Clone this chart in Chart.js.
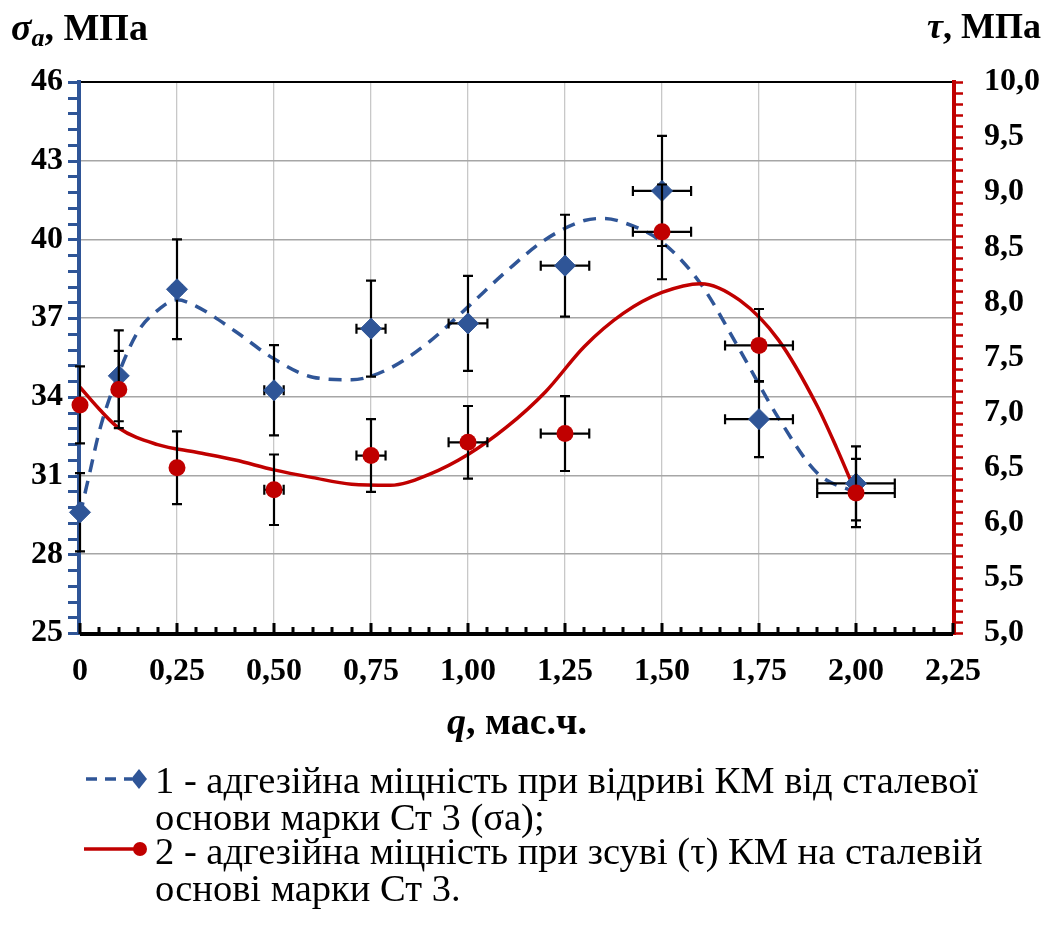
<!DOCTYPE html>
<html><head><meta charset="utf-8">
<script src="https://cdn.jsdelivr.net/npm/chart.js@4.4.1/dist/chart.umd.min.js"></script>
<style>html,body{margin:0;padding:0;background:#fff;overflow:hidden}#wrap{width:1050px;height:935px;position:relative}</style>
</head><body><div id="wrap"><canvas id="c" width="1050" height="935"></canvas></div>
<script>
// ---- data ----
const qValues   = [0, 0.1, 0.25, 0.5, 0.75, 1.0, 1.25, 1.5, 1.75, 2.0];
const sigmaA    = [29.6, 34.8, 38.1, 34.25, 36.6, 36.8, 39.0, 41.85, 33.15, 30.7];
const sigmaErr  = [1.49, 1.73, 1.9, 1.72, 1.83, 1.81, 1.94, 2.1, 1.45, 1.41];
const tau       = [7.07, 7.21, 6.50, 6.30, 6.61, 6.73, 6.81, 8.64, 7.61, 6.27];
const tauErr    = [0.35, 0.35, 0.33, 0.32, 0.33, 0.33, 0.34, 0.43, 0.33, 0.31];
const qErr      = [0, 0.005, 0.0125, 0.025, 0.0375, 0.05, 0.0625, 0.075, 0.0875, 0.1];

const trendQ1     = [0, 0.025, 0.05, 0.1, 0.15, 0.2, 0.25, 0.3, 0.4, 0.5, 0.6, 0.7, 0.8, 0.9, 1.0, 1.1, 1.2, 1.3, 1.35, 1.4, 1.5, 1.6, 1.7, 1.8, 1.9, 2.0];
const trendSigma  = [29.5, 31.1, 32.7, 34.9, 36.5, 37.3, 37.7, 37.45, 36.5, 35.45, 34.75, 34.65, 35.1, 36.1, 37.43, 38.8, 40.0, 40.72, 40.8, 40.65, 39.9, 38.3, 35.8, 33.2, 31.1, 30.35];
const trendQ2     = [0, 0.05, 0.1, 0.2, 0.3, 0.4, 0.5, 0.6, 0.7, 0.8, 0.9, 1.0, 1.1, 1.2, 1.3, 1.4, 1.5, 1.6, 1.7, 1.8, 1.9, 1.95, 2.0];
const trendTau    = [7.23, 7.03, 6.86, 6.71, 6.64, 6.57, 6.48, 6.41, 6.35, 6.34, 6.44, 6.62, 6.87, 7.19, 7.60, 7.90, 8.09, 8.17, 8.02, 7.66, 7.06, 6.68, 6.27];

const xTickLabels      = ['0', '0,25', '0,50', '0,75', '1,00', '1,25', '1,50', '1,75', '2,00', '2,25'];
const yLeftTickLabels  = ['25', '28', '31', '34', '37', '40', '43', '46'];
const yRightTickLabels = ['5,0', '5,5', '6,0', '6,5', '7,0', '7,5', '8,0', '8,5', '9,0', '9,5', '10,0'];

const series1Label = ['1 - адгезійна міцність при відриві КМ від сталевої', 'основи марки Ст 3 (σa);'];
const series2Label = ['2 - адгезійна міцність при зсуві (τ) КМ на сталевій', 'основі марки Ст 3.'];
const xTitle = ['q', ', мас.ч.'];
const leftTitle = ['σ', 'a', ', МПа'];
const rightTitle = ['τ', ', МПа'];

// ---- styles ----
const BLUE = '#2F5597';
const RED = '#C00000';
const SERIF = "'Liberation Serif','Times New Roman',serif";

const pts = (xs, ys) => xs.map((x, i) => ({x, y: ys[i]}));

function drawErrorBars(chart, ds, yId) {
  const ctx = chart.ctx, xs = chart.scales.x, ys = chart.scales[yId];
  const vals = ds === 2 ? sigmaA : tau;
  const errs = ds === 2 ? sigmaErr : tauErr;
  ctx.save();
  ctx.strokeStyle = '#000';
  ctx.lineWidth = 2.2;
  const cap = 5;
  qValues.forEach((q, i) => {
    const px = xs.getPixelForValue(q);
    const py = ys.getPixelForValue(vals[i]);
    const yt = ys.getPixelForValue(vals[i] + errs[i]);
    const yb = ys.getPixelForValue(vals[i] - errs[i]);
    ctx.beginPath();
    ctx.moveTo(px, yt); ctx.lineTo(px, yb);
    ctx.moveTo(px - cap, yt); ctx.lineTo(px + cap, yt);
    ctx.moveTo(px - cap, yb); ctx.lineTo(px + cap, yb);
    if (qErr[i] > 0) {
      const xl = xs.getPixelForValue(q - qErr[i]);
      const xr = xs.getPixelForValue(q + qErr[i]);
      ctx.moveTo(xl, py); ctx.lineTo(xr, py);
      ctx.moveTo(xl, py - cap); ctx.lineTo(xl, py + cap);
      ctx.moveTo(xr, py - cap); ctx.lineTo(xr, py + cap);
    }
    ctx.stroke();
  });
  ctx.restore();
}

const decor = {
  id: 'decor',
  beforeDatasetsDraw(chart) {
    const ctx = chart.ctx, a = chart.chartArea;
    const xs = chart.scales.x, yl = chart.scales.y, yr = chart.scales.y2;
    ctx.save();
    ctx.strokeStyle = '#000'; ctx.lineWidth = 2;
    ctx.beginPath(); ctx.moveTo(a.left, a.top); ctx.lineTo(a.right, a.top); ctx.stroke();
    ctx.strokeStyle = BLUE; ctx.lineWidth = 4;
    ctx.beginPath(); ctx.moveTo(a.left - 1, a.top - 2); ctx.lineTo(a.left - 1, a.bottom + 2); ctx.stroke();
    ctx.lineWidth = 3;
    ctx.beginPath();
    for (let k = 0; k <= 35; k++) {
      const v = 25 + k * 0.6;
      const p = Math.round(yl.getPixelForValue(v)) + 0.5;
      ctx.moveTo(a.left - 12, p); ctx.lineTo(a.left - 1, p);
    }
    ctx.stroke();
    ctx.strokeStyle = RED; ctx.lineWidth = 4;
    ctx.beginPath(); ctx.moveTo(a.right + 1, a.top - 2); ctx.lineTo(a.right + 1, a.bottom + 2); ctx.stroke();
    ctx.lineWidth = 2.5;
    ctx.beginPath();
    for (let k = 0; k <= 50; k++) {
      const v = 5 + k * 0.1;
      const p = Math.round(yr.getPixelForValue(v)) + 0.5;
      ctx.moveTo(a.right + 1, p); ctx.lineTo(a.right + 10, p);
    }
    ctx.stroke();
    ctx.strokeStyle = '#000'; ctx.lineWidth = 4;
    ctx.beginPath(); ctx.moveTo(a.left, a.bottom + 1); ctx.lineTo(a.right, a.bottom + 1); ctx.stroke();
    ctx.lineWidth = 3;
    ctx.beginPath();
    for (let k = 0; k <= 45; k++) {
      const v = k * 0.05;
      const p = Math.round(xs.getPixelForValue(v));
      const len = (k % 5 === 0) ? 11 : 7;
      ctx.moveTo(p, a.bottom + 1); ctx.lineTo(p, a.bottom + 1 - len);
    }
    ctx.stroke();
    ctx.restore();
  },
  beforeDatasetDraw(chart, args) {
    if (args.index === 2) drawErrorBars(chart, 2, 'y');
    if (args.index === 3) drawErrorBars(chart, 3, 'y2');
  },
  afterDraw(chart) {
    const ctx = chart.ctx;
    ctx.save();
    ctx.fillStyle = '#000';
    ctx.textBaseline = 'alphabetic';
    // left title
    let x = 11;
    ctx.font = `italic bold 38px ${SERIF}`;
    ctx.fillText(leftTitle[0], x, 40); x += ctx.measureText(leftTitle[0]).width;
    ctx.font = `italic bold 26px ${SERIF}`;
    ctx.fillText(leftTitle[1], x, 46); x += ctx.measureText(leftTitle[1]).width;
    ctx.font = `bold 38px ${SERIF}`;
    ctx.fillText(leftTitle[2], x, 40);
    // right title
    ctx.font = `bold 36px ${SERIF}`;
    const w2 = ctx.measureText(rightTitle[1]).width;
    ctx.font = `italic bold 36px ${SERIF}`;
    const w1 = ctx.measureText(rightTitle[0]).width;
    const rx = 1041 - w1 - w2;
    ctx.fillText(rightTitle[0], rx, 38);
    ctx.font = `bold 36px ${SERIF}`;
    ctx.fillText(rightTitle[1], rx + w1, 38);
    // x title
    ctx.font = `italic bold 38px ${SERIF}`;
    const xa = ctx.measureText(xTitle[0]).width;
    ctx.font = `bold 38px ${SERIF}`;
    const xb = ctx.measureText(xTitle[1]).width;
    const tx = 517 - (xa + xb) / 2;
    ctx.font = `italic bold 38px ${SERIF}`;
    ctx.fillText(xTitle[0], tx, 734);
    ctx.font = `bold 38px ${SERIF}`;
    ctx.fillText(xTitle[1], tx + xa, 734);
    // legend
    ctx.font = `38.5px ${SERIF}`;
    const lx = 155;
    ctx.fillText(series1Label[0], lx, 793);
    ctx.fillText(series1Label[1], lx, 830);
    ctx.fillText(series2Label[0], lx, 864);
    ctx.fillText(series2Label[1], lx, 901);
    // legend symbols
    ctx.strokeStyle = BLUE; ctx.lineWidth = 3.5; ctx.setLineDash([11, 8]);
    ctx.beginPath(); ctx.moveTo(86, 779); ctx.lineTo(132, 779); ctx.stroke();
    ctx.setLineDash([]);
    ctx.fillStyle = BLUE;
    ctx.beginPath(); ctx.moveTo(139, 769); ctx.lineTo(147, 779); ctx.lineTo(139, 789); ctx.lineTo(131, 779); ctx.closePath(); ctx.fill();
    ctx.strokeStyle = RED; ctx.lineWidth = 3.5;
    ctx.beginPath(); ctx.moveTo(84, 849); ctx.lineTo(136, 849); ctx.stroke();
    ctx.fillStyle = RED;
    ctx.beginPath(); ctx.arc(140, 849, 7, 0, Math.PI * 2); ctx.fill();
    ctx.restore();
  }
};

new Chart(document.getElementById('c'), {
  type: 'scatter',
  data: {
    datasets: [
      { label: 'trend1', data: pts(trendQ1, trendSigma), yAxisID: 'y', showLine: true,
        borderColor: BLUE, borderWidth: 3.5, borderDash: [13, 9], pointRadius: 0,
        cubicInterpolationMode: 'monotone', clip: false, order: 4 },
      { label: 'trend2', data: pts(trendQ2, trendTau), yAxisID: 'y2', showLine: true,
        borderColor: RED, borderWidth: 3.5, pointRadius: 0,
        cubicInterpolationMode: 'monotone', clip: false, order: 3 },
      { label: series1Label.join(' '), data: pts(qValues, sigmaA), yAxisID: 'y',
        pointStyle: 'rectRot', pointRadius: 10.5, pointBackgroundColor: BLUE, pointBorderColor: BLUE,
        pointBorderWidth: 1, clip: false, order: 2 },
      { label: series2Label.join(' '), data: pts(qValues, tau), yAxisID: 'y2',
        pointStyle: 'circle', pointRadius: 8.5, pointBackgroundColor: RED, pointBorderColor: RED,
        pointBorderWidth: 0, clip: false, order: 1 }
    ]
  },
  options: {
    responsive: false, animation: false, devicePixelRatio: 1,
    layout: { padding: { top: 82, left: 0, right: 0, bottom: 0 } },
    plugins: { legend: { display: false }, tooltip: { enabled: false } },
    scales: {
      x: {
        type: 'linear', min: 0, max: 2.25,
        afterFit: s => { s.height = 302; },
        border: { display: false },
        grid: { color: '#c8c8c8', lineWidth: 1.3, drawTicks: false },
        ticks: { stepSize: 0.25, padding: 20, color: '#000', maxRotation: 0,
          font: { family: SERIF, weight: 'bold', size: 32 },
          callback: v => xTickLabels[Math.round(v / 0.25)] }
      },
      y: {
        position: 'left', min: 25, max: 46,
        afterFit: s => { s.width = 80; },
        border: { display: false },
        grid: { color: '#a6a6a6', lineWidth: 1.6, drawTicks: false },
        ticks: { stepSize: 3, padding: 17, color: '#000',
          font: { family: SERIF, weight: 'bold', size: 32 },
          callback: v => yLeftTickLabels[Math.round((v - 25) / 3)] }
      },
      y2: {
        position: 'right', min: 5, max: 10,
        afterFit: s => { s.width = 97; },
        border: { display: false },
        grid: { display: false, drawTicks: false },
        ticks: { stepSize: 0.5, padding: 31, color: '#000',
          font: { family: SERIF, weight: 'bold', size: 32 },
          callback: v => yRightTickLabels[Math.round((v - 5) / 0.5)] }
      }
    }
  },
  plugins: [decor]
});
</script>
</body></html>
